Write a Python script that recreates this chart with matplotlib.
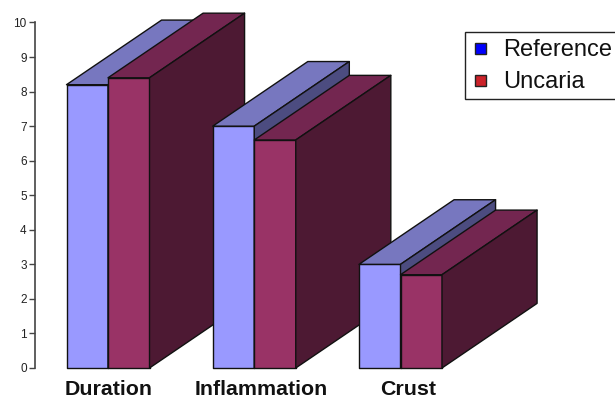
#!/usr/bin/env python3
"""Pseudo-3D grouped bars: Reference vs Uncaria."""

import matplotlib
matplotlib.use("Agg")
import matplotlib.pyplot as plt
from matplotlib.patches import Polygon, Rectangle

plt.rcParams["font.family"] = ["Liberation Sans", "DejaVu Sans"]

categories = ["Duration", "Inflammation", "Crust"]
reference = [8.2, 7.0, 3.0]
uncaria = [8.4, 6.6, 2.7]
series_names = ["Reference", "Uncaria"]
y_ticks = list(range(0, 11))

W, H = 615, 397
LEFT, RIGHT, TOP, BOTTOM = 35, 35 + 3.6 * 146.25, 22.5, 368
BAR_W = 0.2838      # one bar, in group units
DEPTH_X = 0.65      # extrusion, group units
DEPTH_Y = 1.87      # extrusion, value units
LINE = "#111111"

REF_COLORS = ("#9999FF", "#7777BF", "#4C4C80")
UNC_COLORS = ("#993366", "#732650", "#4D1933")

fig = plt.figure(figsize=(W / 100, H / 100), dpi=100)
ax = fig.add_axes([LEFT / W, 1 - BOTTOM / H, (RIGHT - LEFT) / W, (BOTTOM - TOP) / H])
ax.patch.set_visible(False)
x0 = -(66.5 - LEFT) / 146.25
ax.set_xlim(x0, x0 + (RIGHT - LEFT) / 146.25)
ax.set_ylim(0, 10)


def box(left, value, colors):
    right = left + BAR_W
    faces = [
        ([(left, 0), (right, 0), (right, value), (left, value)], colors[0]),
        ([(left, value), (right, value), (right + DEPTH_X, value + DEPTH_Y),
          (left + DEPTH_X, value + DEPTH_Y)], colors[1]),
        ([(right, 0), (right + DEPTH_X, DEPTH_Y), (right + DEPTH_X, value + DEPTH_Y),
          (right, value)], colors[2]),
    ]
    for pts, c in faces:
        ax.add_patch(Polygon(pts, closed=True, facecolor=c, edgecolor=LINE,
                             linewidth=1.0, joinstyle="round", clip_on=False))


for i in range(len(categories)):
    box(i, reference[i], REF_COLORS)
    box(i + BAR_W, uncaria[i], UNC_COLORS)

for s in ("top", "right", "bottom"):
    ax.spines[s].set_visible(False)
ax.spines["left"].set_color("#444444")
ax.spines["left"].set_linewidth(1.2)
ax.set_xticks([])
ax.set_yticks(y_ticks)
ax.tick_params(axis="y", length=4.5, width=1.0, color="#444444", pad=1.5,
               labelsize=8.5, labelcolor="#222222")

# category labels sit a little right of the group middle
label_shift = [1, 7, 8]
for i, name in enumerate(categories):
    ax.annotate(name, xy=(i + BAR_W, 0), xycoords="data",
                xytext=(label_shift[i] * 0.72, -19.5), textcoords="offset points",
                ha="center", va="baseline", fontsize=15.4, fontweight="bold", color="#111111")

# legend, in pixel coordinates, runs off the right edge like the original
lg = fig.add_axes([0, 0, 1, 1])
lg.set_xlim(0, W)
lg.set_ylim(H, 0)
lg.axis("off")
lg.patch.set_visible(False)
lg.add_patch(Rectangle((465, 32), 160, 67, facecolor="white", edgecolor="#222222", linewidth=1.0))
swatches = ["#0000FF", "#CC2229"]
for name, c, yc in zip(series_names, swatches, [48.5, 80.5]):
    lg.add_patch(Rectangle((475, yc - 5.5), 11, 11, facecolor=c, edgecolor="#222222", linewidth=1.0))
    lg.text(503.5, yc + 1.5, name, va="center", ha="left", fontsize=17, color="#111111")

fig.savefig("out.png", dpi=100)
